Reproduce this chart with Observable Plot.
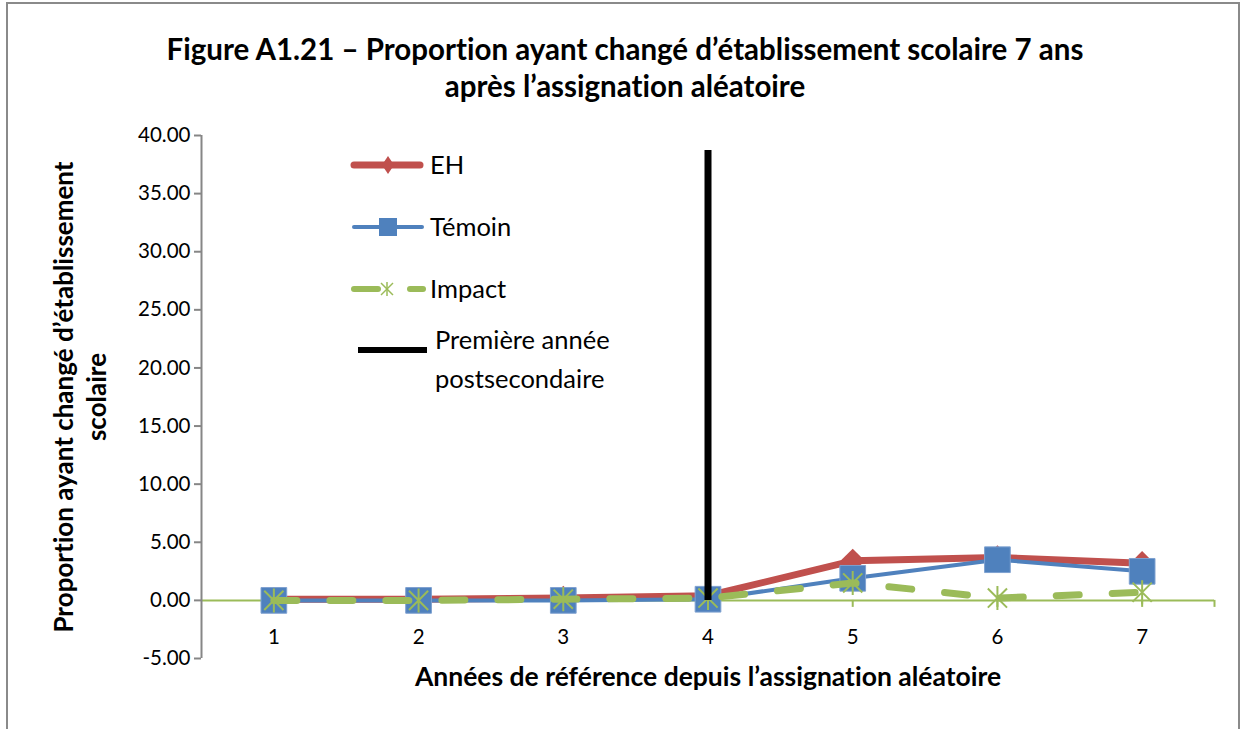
<!DOCTYPE html>
<html>
<head>
<meta charset="utf-8">
<script src="https://cdn.jsdelivr.net/npm/d3@7"></script>
<script src="https://cdn.jsdelivr.net/npm/@observablehq/plot@0.6"></script>
<style>
  body { margin:0; background:#fff; width:1244px; height:729px; position:relative; overflow:hidden; font-family: Lato, "Open Sans", sans-serif; font-variant-ligatures: none; font-feature-settings: "liga" 0; }
  svg text { font-variant-ligatures: none; font-feature-settings: "liga" 0; }
  #frame { position:absolute; left:6px; top:2px; width:1234px; height:800px; border:2px solid #8a8a8a; box-sizing:border-box; }
  #title { position:absolute; left:0; top:30px; width:1250px; text-align:center; font-weight:bold; font-size:29.5px; line-height:37px; color:#000; }
  #chart { position:absolute; left:0; top:120px; }
  .leg { position:absolute; font-size:25.5px; color:#000; line-height:1; }
  .sw { position:absolute; }
</style>
</head>
<body>
<div id="frame"></div>
<div id="title"></div>
<div id="chart"></div>
<div id="legend"></div>
<script>
// ---- data ----
const titleLines = ["Figure A1.21 – Proportion ayant changé d’établissement scolaire 7 ans", "après l’assignation aléatoire"];
const yTitle = "Proportion ayant changé d’établissement\nscolaire";
const xTitle = "Années de référence depuis l’assignation aléatoire";
const years = [1, 2, 3, 4, 5, 6, 7];
const eh = [0.1, 0.1, 0.2, 0.4, 3.4, 3.7, 3.2];
const temoin = [0.0, 0.0, 0.0, 0.1, 1.9, 3.5, 2.5];
const impact = [0.0, 0.0, 0.1, 0.2, 1.5, 0.2, 0.7];
const postsecYear = [4];
const postsecValue = [38.7];
const yTicks = [-5, 0, 5, 10, 15, 20, 25, 30, 35, 40];
const seriesNames = ["EH", "Témoin", "Impact", "Première année\npostsecondaire"];
const colors = {eh: "#C0504D", temoin: "#4F81BD", impact: "#9BBB59", post: "#000000"};

document.getElementById("title").innerHTML = titleLines.join("<br>");

const ehData = years.map((x, i) => ({x, y: eh[i]}));
const temData = years.map((x, i) => ({x, y: temoin[i]}));
const impData = years.map((x, i) => ({x, y: impact[i]}));
const postData = postsecYear.map((x, i) => ({x, y: postsecValue[i]}));

const star = {
  draw(ctx, size) {
    const r = Math.sqrt(size / Math.PI);
    const d = r * 0.8;
    ctx.moveTo(0, -r); ctx.lineTo(0, r);
    ctx.moveTo(-d, -d); ctx.lineTo(d, d);
    ctx.moveTo(-d, d); ctx.lineTo(d, -d);
  }
};

const W = 1244, H = 609;
const chart = Plot.plot({
  width: W, height: H,
  marginLeft: 201, marginRight: 30, marginTop: 15, marginBottom: 71,
  style: {fontFamily: "Lato, 'Open Sans', sans-serif", background: "transparent", color: "#000", overflow: "visible"},
  x: {type: "linear", domain: [0.5, 7.5], axis: null},
  y: {domain: [-5, 40], axis: null},
  marks: [
    Plot.ruleY([0], {stroke: colors.impact, strokeWidth: 2}),
    Plot.ruleX([...years, 7.5], {y1: 0, y2: 0, insetBottom: -7, stroke: colors.impact, strokeWidth: 2}),
    Plot.ruleX([0.5], {y1: -5, y2: 40, stroke: "#868686", strokeWidth: 2}),
    Plot.axisY({ticks: yTicks, tickFormat: d => d.toFixed(2), tickSize: 7, tickPadding: 4, stroke: "#868686", strokeWidth: 2, fill: "#000", fontSize: 20.5, label: null}),
    Plot.text(years, {x: d => d, y: 0, dy: 37, fontSize: 20.5, fill: "#000"}),
    Plot.text([yTitle], {frameAnchor: "left", textAnchor: "middle", lineAnchor: "middle", rotate: -90, dx: -123, fontSize: 26, fontWeight: "bold", lineHeight: 1.27, fill: "#000"}),
    Plot.text([xTitle], {frameAnchor: "bottom", dy: 27, fontSize: 26.5, fontWeight: "bold", fill: "#000"}),
    // EH
    Plot.line(ehData, {x: "x", y: "y", stroke: colors.eh, strokeWidth: 7, strokeLinejoin: "round"}),
    Plot.dot(ehData, {x: "x", y: "y", symbol: "diamond2", r: 11, fill: colors.eh}),
    // Témoin
    Plot.line(temData, {x: "x", y: "y", stroke: colors.temoin, strokeWidth: 4, strokeLinejoin: "round"}),
    Plot.dot(temData, {x: "x", y: "y", symbol: "square", r: 14.5, fill: colors.temoin, stroke: "#7EA1D0", strokeWidth: 1}),
    // Impact
    Plot.line(impData, {x: "x", y: "y", stroke: colors.impact, strokeWidth: 7, strokeDasharray: "23,33", strokeLinecap: "round"}),
    Plot.dot(impData, {x: "x", y: "y", symbol: star, r: 12, stroke: colors.impact, strokeWidth: 2, fill: "none"}),
    // vertical line
    Plot.ruleX(postData, {x: "x", y1: 0, y2: "y", stroke: colors.post, strokeWidth: 7})
  ]
});
document.getElementById("chart").appendChild(chart);

// ---- legend (HTML overlay) ----
const legend = document.getElementById("legend");
function svgEl(x, y, w, h, inner) {
  const d = document.createElement("div");
  d.className = "sw";
  d.style.left = x + "px"; d.style.top = y + "px";
  d.innerHTML = `<svg width="${w}" height="${h}" viewBox="0 0 ${w} ${h}">${inner}</svg>`;
  legend.appendChild(d);
}
function label(x, yc, text) {
  const d = document.createElement("div");
  d.className = "leg";
  d.style.left = x + "px"; d.style.top = (yc - 13) + "px";
  d.textContent = text;
  legend.appendChild(d);
}
// EH
svgEl(348, 150, 80, 30, `<line x1="6" y1="15" x2="72" y2="15" stroke="${colors.eh}" stroke-width="7" stroke-linecap="round"/><path d="M40 6 L46 15 L40 24 L34 15 Z" fill="${colors.eh}"/>`);
label(430, 165, seriesNames[0]);
// Témoin
svgEl(348, 212, 80, 30, `<line x1="6" y1="15" x2="74" y2="15" stroke="${colors.temoin}" stroke-width="4" stroke-linecap="round"/><rect x="31" y="6" width="18" height="18" fill="${colors.temoin}"/>`);
label(430, 227, seriesNames[1]);
// Impact
svgEl(348, 274, 80, 30, `<line x1="6" y1="15" x2="30" y2="15" stroke="${colors.impact}" stroke-width="6" stroke-linecap="round"/><line x1="62" y1="15" x2="75" y2="15" stroke="${colors.impact}" stroke-width="6" stroke-linecap="round"/><g stroke="${colors.impact}" stroke-width="1.5"><line x1="39" y1="8" x2="39" y2="22"/><line x1="33" y1="9" x2="45" y2="21"/><line x1="33" y1="21" x2="45" y2="9"/></g>`);
label(430, 289, seriesNames[2]);
// Première année postsecondaire
svgEl(356, 340, 76, 20, `<line x1="2" y1="10" x2="71" y2="10" stroke="#000" stroke-width="6"/>`);
const pl = document.createElement("div");
pl.className = "leg";
pl.style.left = "435px"; pl.style.top = "320px"; pl.style.lineHeight = "39px";
pl.innerHTML = seriesNames[3].replace("\n", "<br>");
legend.appendChild(pl);
</script>
</body>
</html>
